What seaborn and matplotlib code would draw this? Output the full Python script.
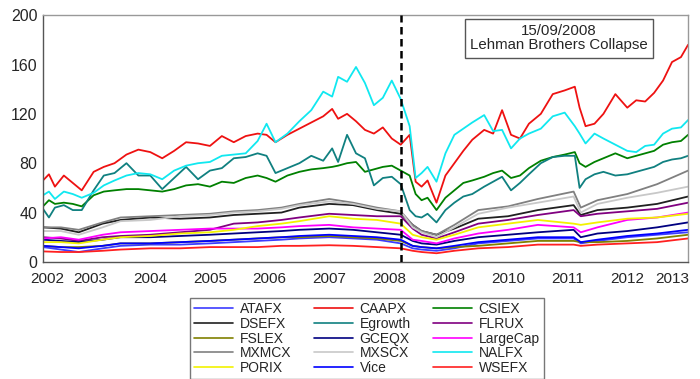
import numpy as np
import pandas as pd
import matplotlib
matplotlib.use("Agg")
import matplotlib.pyplot as plt
from matplotlib.lines import Line2D
import seaborn as sns

# time grid (decimal years) for the four large funds
t_big = [2002.70, 2002.80, 2002.90, 2003.05, 2003.20, 2003.35, 2003.55, 2003.72, 2003.90,
         2004.10, 2004.30, 2004.50, 2004.70, 2004.90, 2005.10, 2005.30, 2005.50, 2005.70,
         2005.90, 2006.10, 2006.30, 2006.45, 2006.60, 2006.80, 2007.00, 2007.20, 2007.40,
         2007.55, 2007.65, 2007.80, 2007.95, 2008.10, 2008.25, 2008.40, 2008.55, 2008.70,
         2008.85, 2008.95, 2009.05, 2009.15, 2009.30, 2009.45, 2009.60, 2009.75, 2009.90,
         2010.10, 2010.25, 2010.40, 2010.55, 2010.70, 2010.85, 2011.05, 2011.25, 2011.45,
         2011.62, 2011.70, 2011.80, 2011.95, 2012.10, 2012.30, 2012.50, 2012.65, 2012.80,
         2012.95, 2013.10, 2013.25, 2013.40, 2013.52]

caapx = [66, 71, 61, 70, 64, 58, 73, 77, 80, 87, 91, 89, 84, 90, 97, 96, 94, 102, 97, 102,
         104, 103, 97, 103, 108, 113, 118, 124, 116, 120, 114, 107, 104, 109, 100, 95, 103,
         65, 61, 66, 48, 70, 80, 90, 99, 107, 104, 123, 103, 100, 112, 120, 136, 139, 142,
         125, 110, 112, 120, 136, 125, 131, 130, 137, 147, 162, 166, 176]
nalfx = [54, 57, 51, 57, 55, 52, 56, 62, 66, 70, 72, 71, 67, 74, 78, 80, 81, 86, 87, 88,
         98, 112, 97, 104, 114, 123, 138, 134, 150, 146, 158, 145, 127, 133, 147, 132, 110,
         68, 72, 77, 65, 88, 103, 108, 113, 119, 106, 107, 92, 100, 104, 108, 118, 121, 110,
         104, 96, 104, 100, 95, 90, 89, 94, 95, 104, 108, 109, 115]
csiex = [45, 50, 47, 48, 47, 45, 54, 57, 58, 59, 59, 58, 57, 59, 62, 63, 61, 65, 64, 68,
         70, 68, 65, 70, 73, 75, 76, 77, 78, 80, 81, 73, 75, 77, 78, 74, 70, 55, 50, 52, 42,
         52, 58, 64, 66, 69, 72, 74, 68, 70, 76, 82, 85, 87, 89, 80, 77, 81, 84, 88, 84, 86,
         88, 90, 95, 97, 98, 103]
egrowth = [43, 36, 44, 46, 42, 42, 58, 70, 72, 80, 70, 70, 59, 68, 77, 67, 74, 76, 84, 85,
           88, 86, 72, 76, 80, 86, 82, 92, 81, 103, 88, 84, 62, 68, 69, 63, 42, 37, 36, 39,
           32, 42, 48, 53, 55, 61, 65, 69, 58, 64, 71, 80, 85, 86, 86, 60, 67, 71, 73, 70,
           71, 73, 75, 77, 81, 83, 84, 86]

# coarser time grid for the eleven smaller funds
t_small = [2002.70, 2003.0, 2003.3, 2003.7, 2004.0, 2004.5, 2005.0, 2005.5, 2005.9, 2006.3,
           2006.7, 2007.0, 2007.5, 2007.9, 2008.3, 2008.7, 2008.9, 2009.05, 2009.3, 2009.6,
           2010.0, 2010.5, 2011.0, 2011.6, 2011.72, 2012.0, 2012.5, 2013.0, 2013.52]

dsefx = [28, 27, 24, 31, 34, 36, 35, 36, 38, 39, 40, 44, 47, 46, 42, 39, 30, 25, 22, 27,
         35, 37, 42, 46, 38, 42, 44, 47, 53]
mxmcx = [28, 28, 26, 32, 36, 37, 38, 39, 41, 42, 44, 47, 51, 48, 44, 41, 30, 25, 22, 30,
         42, 45, 51, 57, 44, 50, 55, 63, 74]
mxscx = [25, 25, 22, 28, 33, 34, 37, 38, 40, 41, 43, 46, 49, 47, 43, 41, 28, 24, 20, 28,
         39, 44, 48, 53, 40, 47, 52, 56, 61]
flrux = [20, 19, 17, 20, 21, 22, 24, 26, 31, 32, 34, 36, 39, 38, 37, 37, 27, 22, 19, 24,
         31, 34, 38, 42, 37, 39, 41, 43, 48]
largecap = [19, 20, 18, 22, 24, 25, 26, 27, 27, 27, 28, 29, 30, 28, 27, 26, 18, 17, 15, 19,
            23, 26, 30, 28, 24, 28, 34, 36, 40]
porix = [16, 16, 15, 18, 20, 21, 23, 24, 26, 29, 31, 33, 37, 35, 34, 31, 22, 20, 18, 22,
         28, 31, 34, 31, 30, 32, 35, 36, 39]
gceqx = [18, 17, 16, 18, 20, 20, 21, 22, 23, 24, 25, 26, 27, 26, 24, 22, 17, 15, 14, 17,
         20, 22, 24, 26, 20, 23, 25, 28, 32]
vice = [13, 12, 11, 13, 15, 15, 16, 17, 18, 19, 20, 21, 22, 21, 20, 18, 13, 12, 11, 13,
        16, 18, 20, 20, 16, 18, 21, 23, 26]
atafx = [12, 10, 8, 11, 13, 14, 14, 15, 16, 17, 18, 19, 20, 19, 18, 15, 11, 10, 9, 11,
         15, 17, 19, 19, 15, 17, 20, 22, 24]
fslex = [13, 12, 12, 13, 15, 15, 16, 17, 18, 19, 20, 20, 21, 20, 19, 17, 13, 12, 11, 12,
         13, 15, 17, 17, 16, 16, 17, 19, 22]
wsefx = [8.5, 8, 8, 9, 10, 11, 11, 12, 12, 12, 13, 13, 13.5, 13, 12, 11, 9, 8, 7, 9,
         11, 12, 14, 14, 13, 14, 15, 16, 19]

funds = ["ATAFX", "CAAPX", "CSIEX", "DSEFX", "Egrowth", "FLRUX", "FSLEX", "GCEQX",
         "LargeCap", "MXMCX", "MXSCX", "NALFX", "PORIX", "Vice", "WSEFX"]
colors = ["#3c3cff", "#ee1111", "#008000", "#202020", "#108080", "#800080", "#808000",
          "#000080", "#ff00ff", "#808080", "#c8c8c8", "#10e8f0", "#f2f200", "#0000ff",
          "#ff2020"]
lehman = 2008.71
event_text = "15/09/2008\nLehman Brothers Collapse"

series = {
    "ATAFX": (t_small, atafx), "CAAPX": (t_big, caapx), "CSIEX": (t_big, csiex),
    "DSEFX": (t_small, dsefx), "Egrowth": (t_big, egrowth), "FLRUX": (t_small, flrux),
    "FSLEX": (t_small, fslex), "GCEQX": (t_small, gceqx), "LargeCap": (t_small, largecap),
    "MXMCX": (t_small, mxmcx), "MXSCX": (t_small, mxscx), "NALFX": (t_big, nalfx),
    "PORIX": (t_small, porix), "Vice": (t_small, vice), "WSEFX": (t_small, wsefx),
}
df = pd.concat([pd.DataFrame({"year": t, "value": v, "fund": k})
                for k, (t, v) in series.items()], ignore_index=True)

sns.set_style("white")
plt.rcParams["font.family"] = ["Liberation Sans", "DejaVu Sans"]

fig, ax = plt.subplots(figsize=(7, 3.79), dpi=100)
fig.subplots_adjust(left=0.0614, right=0.983, top=0.960, bottom=0.309)

palette = dict(zip(funds, colors))
sns.lineplot(data=df, x="year", y="value", hue="fund", hue_order=funds, palette=palette,
             estimator=None, sort=True, linewidth=1.3, legend=False, ax=ax)

ax.axvline(lehman, color="black", ls=(0, (3, 1.8)), lw=1.8, zorder=5)

xmin, xmax = t_big[0], t_big[-1]
ax.set_xlim(xmin, xmax)
ax.set_ylim(0, 200)
ax.set_yticks(range(0, 201, 40))
ax.set_xlabel("")
ax.set_ylabel("")

# year boundaries as major ticks, months as minor ticks, labels centred in each year
ax.set_xticks(range(2003, 2014))
ax.set_xticklabels([])
ax.set_xticks(np.arange(2002 + 9 / 12, xmax, 1 / 12), minor=True)
ax.tick_params(axis="x", which="major", direction="out", length=5, width=0.8, color="#444444")
ax.tick_params(axis="x", which="minor", direction="out", length=2.5, width=0.6, color="#444444")
ax.tick_params(axis="y", direction="out", length=3, width=0.8, color="#444444",
               labelsize=11.5, pad=1)
for yr in range(2002, 2014):
    pos = (max(yr, xmin) + min(yr + 1, xmax)) / 2
    if yr == 2002:
        pos -= 0.08
    ax.annotate(str(yr), xy=(pos, 0), xycoords=ax.get_xaxis_transform(),
                xytext=(0, -7), textcoords="offset points", ha="center", va="top",
                fontsize=11)

for side in ["left", "bottom"]:
    ax.spines[side].set_color("#555555")
for side in ["top", "right"]:
    ax.spines[side].set_color("#999999")
for sp in ax.spines.values():
    sp.set_linewidth(1.0)

ax.text(0.80, 0.907, event_text, transform=ax.transAxes, ha="center", va="center",
        fontsize=10.8, linespacing=1.05,
        bbox=dict(boxstyle="square,pad=0.35", facecolor="white", edgecolor="#555555", lw=1))

# legend filled row by row like the original
handles = [Line2D([], [], color=c, lw=1.2) for c in colors]
order = [r * 3 + c for c in range(3) for r in range(5)]
fig.legend([handles[i] for i in order], [funds[i] for i in order], ncol=3,
           loc="upper left", bbox_to_anchor=(190 / 700, 1 - 298 / 379), fontsize=10,
           frameon=True, fancybox=False, edgecolor="#555555", handlelength=2.8,
           handletextpad=0.5, columnspacing=1.6, labelspacing=0.05, borderpad=0.3,
           borderaxespad=0)

fig.savefig("out.png", dpi=100)
